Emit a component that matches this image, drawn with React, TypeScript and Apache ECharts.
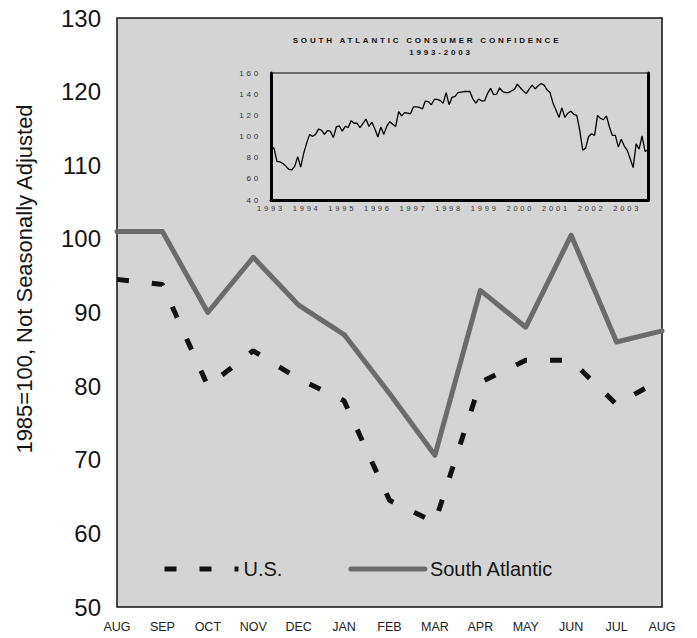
import React, { useEffect, useRef } from "react";
import * as echarts from "echarts";

// ---------- Main chart data ----------
const monthLabels = ["AUG", "SEP", "OCT", "NOV", "DEC", "JAN", "FEB", "MAR", "APR", "MAY", "JUN", "JUL", "AUG"];
const usValues = [94.5, 93.8, 80, 84.8, 81, 78, 64.5, 61.5, 80.5, 83.5, 83.5, 77.5, 81];
const southAtlanticValues = [101, 101, 90, 97.5, 91, 87, 79, 70.6, 93, 88, 100.5, 86, 87.5];
const mainYMin = 50;
const mainYMax = 130;
const mainYStep = 10;

// ---------- Inset data (South Atlantic, monthly 1993-2003) ----------
const insetYears = [1993, 1994, 1995, 1996, 1997, 1998, 1999, 2000, 2001, 2002, 2003];
const sa1993 = [90, 89, 76.5, 76, 74.5, 72, 69, 68.5, 72, 81, 71, 84];
const sa1994 = [93.5, 102, 100, 102, 107, 106, 102, 105.5, 105, 99, 109, 110];
const sa1995 = [105, 109.5, 108.5, 115, 112.5, 112.5, 108.5, 112.5, 116.5, 109.5, 113.5, 107];
const sa1996 = [99.5, 109, 102, 109.5, 114, 111.5, 109.5, 123.5, 119.5, 122.5, 122, 121.5];
const sa1997 = [128, 128, 127.5, 126, 133.5, 133, 130, 135, 135, 134, 131.5, 141.5];
const sa1998 = [130, 137, 138, 141.5, 142, 142.5, 142.5, 142.5, 135.5, 131.5, 135.5, 133.5];
const sa1999 = [134, 141, 145.5, 139.5, 140, 146, 142.5, 141.5, 141.5, 143, 144.5, 149.5];
const sa2000 = [146, 143, 140.5, 145, 148.5, 145, 148, 150, 148.5, 144, 141.5, 131.5];
const sa2001 = [125, 118, 127, 118, 122, 124, 121, 120, 106, 87, 89, 100];
const sa2002 = [102.5, 101, 120, 117, 116, 119.5, 109, 101, 101, 90, 97.5, 91];
const sa2003 = [87, 79, 70.6, 93, 88, 100.5, 86, 87.5];
const insetByYear = [sa1993, sa1994, sa1995, sa1996, sa1997, sa1998, sa1999, sa2000, sa2001, sa2002, sa2003];
const insetYMin = 40;
const insetYMax = 160;
const insetYStep = 20;

const insetCategories: string[] = [];
const insetValues: number[] = [];
insetByYear.forEach((arr, yi) => {
  arr.forEach((v, mi) => {
    insetCategories.push(insetYears[yi] + "-" + String(mi + 1).padStart(2, "0"));
    insetValues.push(v);
  });
});

const FONT = "Liberation Sans, Arial, Helvetica, sans-serif";

export default function App() {
  const mainRef = useRef<HTMLDivElement>(null);
  const insetRef = useRef<HTMLDivElement>(null);

  useEffect(() => {
    document.body.style.margin = "0";
    const main = echarts.init(mainRef.current!, null, { renderer: "svg" });
    main.setOption({
      animation: false,
      backgroundColor: "#ffffff",
      grid: {
        left: 117,
        right: 35,
        top: 18,
        bottom: 31,
        show: true,
        backgroundColor: "#d4d4d4",
        borderColor: "#111111",
        borderWidth: 1.5,
      },
      legend: {
        left: 162,
        top: 559,
        padding: 0,
        itemWidth: 74,
        itemHeight: 14,
        itemGap: 66,
        itemStyle: { opacity: 0 },
        lineStyle: { width: 5 },
        textStyle: { fontSize: 20, color: "#151515", fontFamily: FONT },
        data: ["U.S.", "South Atlantic"],
      },
      xAxis: {
        type: "category",
        data: monthLabels,
        boundaryGap: false,
        axisLine: { show: false },
        axisTick: { show: false },
        axisLabel: { fontSize: 12.5, color: "#222222", fontFamily: FONT, margin: 13, interval: 0 },
        splitLine: { show: false },
      },
      yAxis: {
        type: "value",
        min: mainYMin,
        max: mainYMax,
        interval: mainYStep,
        axisLine: { show: false },
        axisTick: { show: false },
        splitLine: { show: false },
        axisLabel: { fontSize: 24, color: "#151515", fontFamily: FONT, margin: 16 },
      },
      graphic: [
        {
          type: "text",
          x: 24,
          y: 279,
          rotation: Math.PI / 2,
          style: {
            text: "1985=100, Not Seasonally Adjusted",
            font: "22px " + FONT,
            fill: "#151515",
            align: "center",
            verticalAlign: "middle",
            textAlign: "center",
            textVerticalAlign: "middle",
          },
        },
      ],
      series: [
        {
          name: "U.S.",
          type: "line",
          data: usValues,
          symbol: "none",
          clip: false,
          lineStyle: { color: "#111111", width: 5, type: [12, 23], cap: "butt" },
          itemStyle: { color: "#111111" },
        },
        {
          name: "South Atlantic",
          type: "line",
          data: southAtlanticValues,
          symbol: "none",
          clip: false,
          lineStyle: { color: "#6b6b6b", width: 5, cap: "round", join: "round" },
          itemStyle: { color: "#6b6b6b" },
        },
      ],
    });

    const inset = echarts.init(insetRef.current!, null, { renderer: "svg" });
    inset.setOption({
      animation: false,
      grid: {
        left: 271,
        right: 49,
        top: 73,
        bottom: 438,
        show: true,
        borderColor: "#000000",
        borderWidth: 1,
        backgroundColor: "transparent",
      },
      xAxis: {
        type: "category",
        data: insetCategories,
        boundaryGap: false,
        axisLine: { show: true, lineStyle: { color: "#000000", width: 3 } },
        axisTick: { show: false },
        splitLine: { show: false },
        axisLabel: {
          interval: 11,
          fontSize: 7.5,
          color: "#333333",
          fontFamily: FONT,
          margin: 4,
          formatter: (v: string) => v.slice(0, 4),
        },
      },
      yAxis: [
        {
          type: "value",
          min: insetYMin,
          max: insetYMax,
          interval: insetYStep,
          axisLine: { show: true, lineStyle: { color: "#000000", width: 3 } },
          axisTick: { show: false },
          splitLine: { show: false },
          axisLabel: { fontSize: 8, color: "#333333", fontFamily: FONT, margin: 10 },
        },
        {
          type: "value",
          position: "right",
          min: insetYMin,
          max: insetYMax,
          interval: insetYStep,
          axisLine: { show: true, lineStyle: { color: "#000000", width: 3 } },
          axisTick: { show: false },
          splitLine: { show: false },
          axisLabel: { show: false },
        },
      ],
      graphic: [
        {
          type: "text",
          x: 427,
          y: 40,
          style: {
            text: "SOUTH ATLANTIC CONSUMER CONFIDENCE",
            font: "bold 8px " + FONT,
            fill: "#111111",
            align: "center",
            verticalAlign: "middle",
            textAlign: "center",
            textVerticalAlign: "middle",
          },
        },
        {
          type: "text",
          x: 441,
          y: 52,
          style: {
            text: "1993-2003",
            font: "bold 8px " + FONT,
            fill: "#111111",
            align: "center",
            verticalAlign: "middle",
            textAlign: "center",
            textVerticalAlign: "middle",
          },
        },
      ],
      series: [
        {
          name: "South Atlantic 1993-2003",
          type: "line",
          yAxisIndex: 0,
          data: insetValues,
          symbol: "none",
          clip: false,
          lineStyle: { color: "#000000", width: 1.3 },
        },
      ],
    });

    return () => {
      main.dispose();
      inset.dispose();
    };
  }, []);

  return (
    <div style={{ position: "relative", width: 697, height: 638 }}>
      <style>{".inset-chart text { letter-spacing: 2.8px; }"}</style>
      <div ref={mainRef} style={{ position: "absolute", left: 0, top: 0, width: 697, height: 638 }} />
      <div
        ref={insetRef}
        className="inset-chart"
        style={{ position: "absolute", left: 0, top: 0, width: 697, height: 638, pointerEvents: "none" }}
      />
    </div>
  );
}
